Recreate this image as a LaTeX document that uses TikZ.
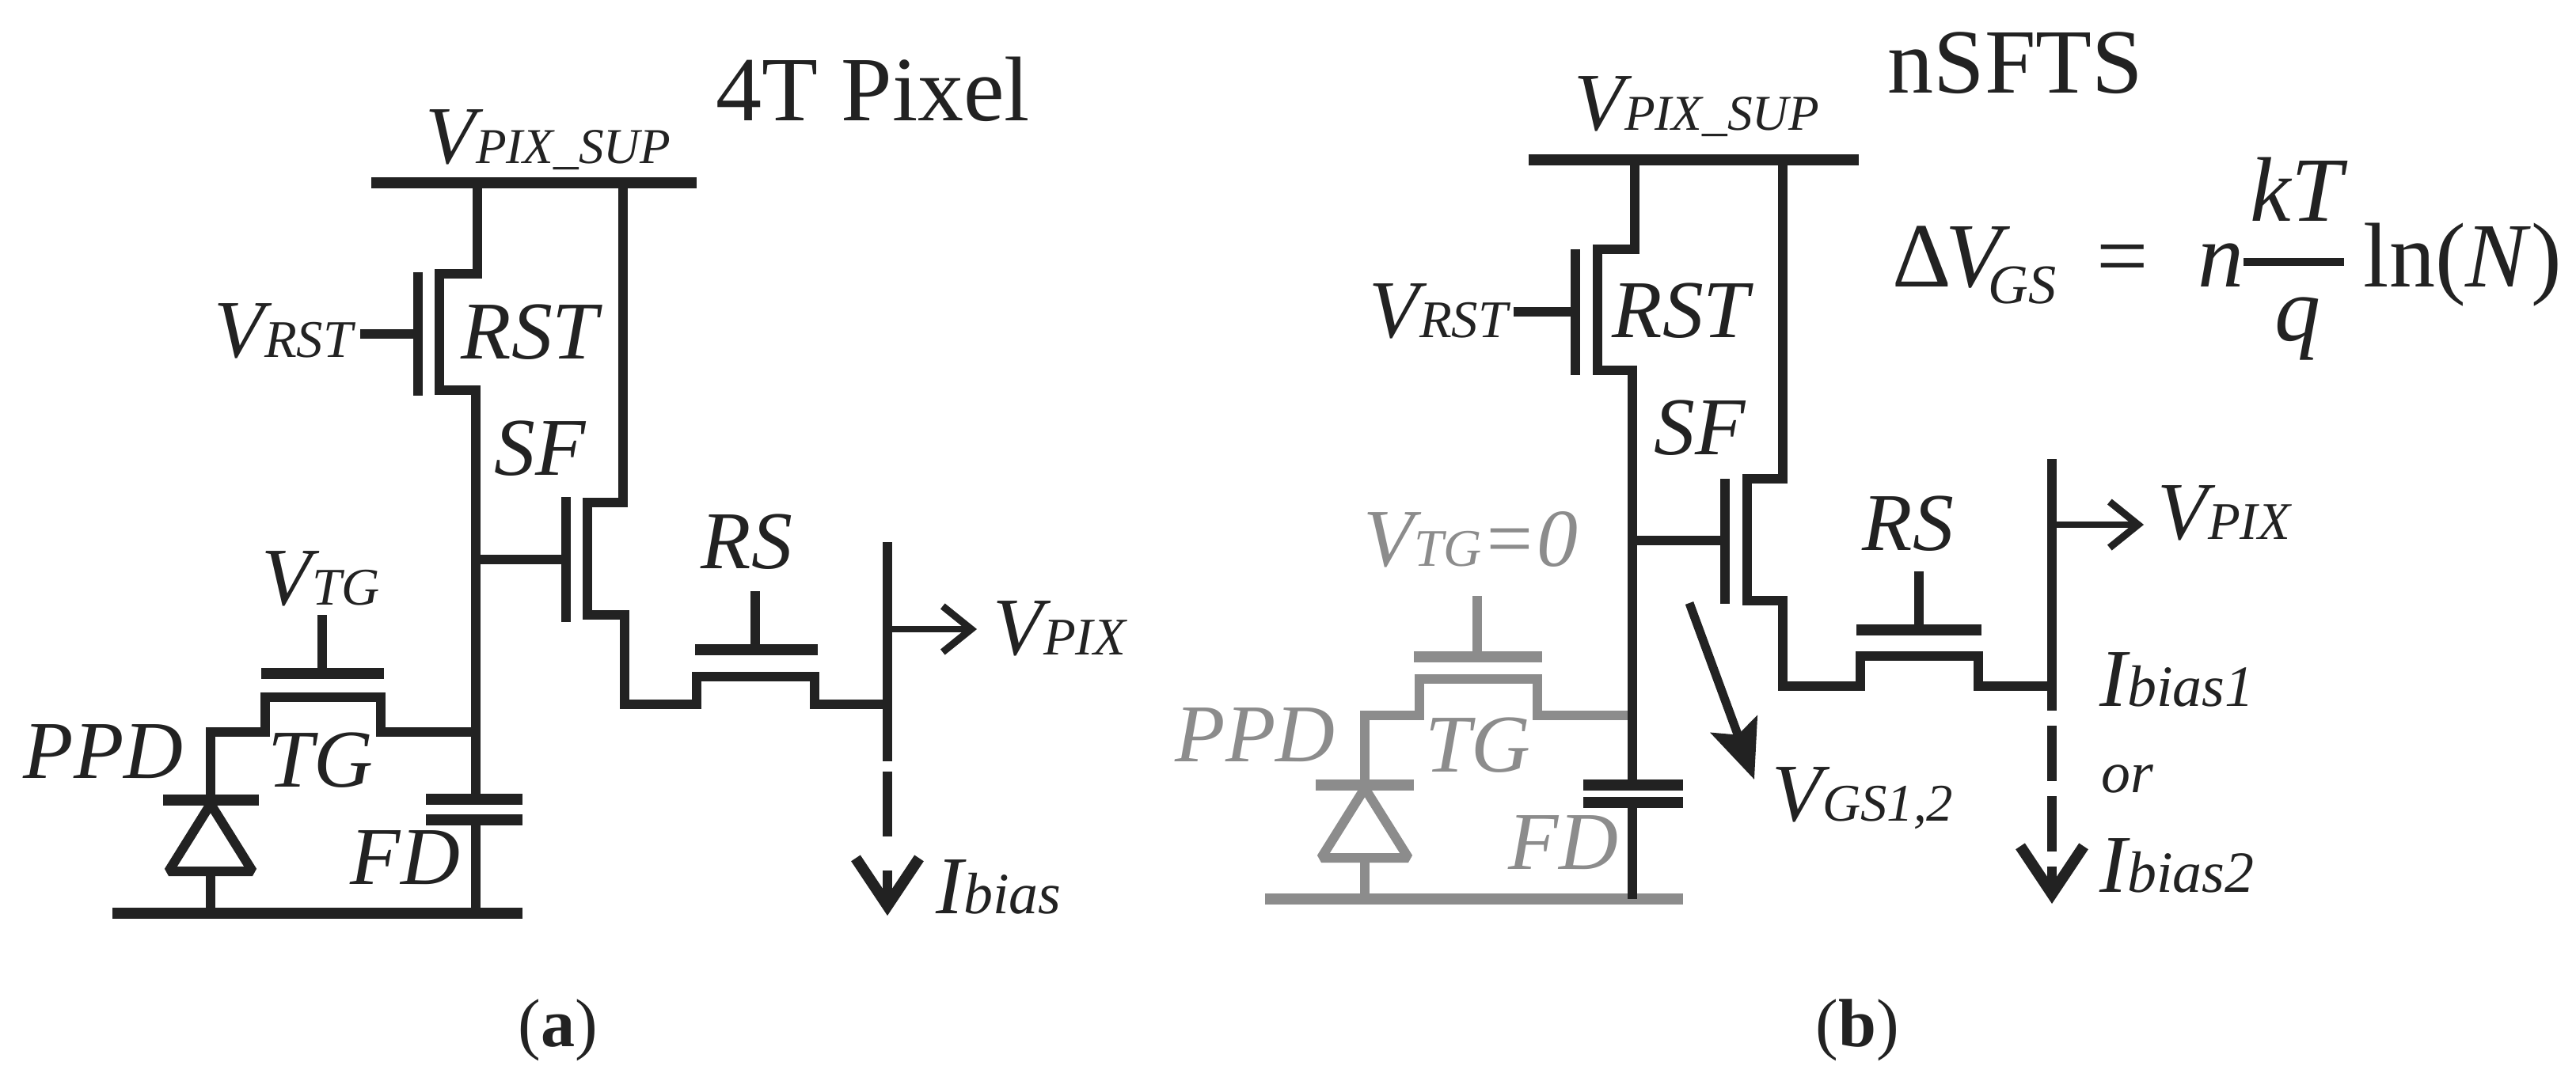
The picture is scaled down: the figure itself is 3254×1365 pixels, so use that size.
\documentclass[tikz,border=0pt]{standalone}
\usepackage{fontspec}
\setmainfont{Liberation Serif}
\usetikzlibrary{arrows.meta, positioning}
\definecolor{ink}{HTML}{222222}
\definecolor{fade}{HTML}{8C8C8C}
\newcommand{\lowsz}{\fontsize{19}{19}\selectfont}
\tikzset{
  wire/.style={draw=ink, line width=.12cm},
  bar/.style={draw=ink, line width=.14cm},
  gwire/.style={draw=fade, line width=.12cm},
  gbar/.style={draw=fade, line width=.14cm},
  lab/.style={anchor=base west, inner sep=0pt, text=ink, font=\fontsize{29.5}{31}\selectfont\itshape},
  glab/.style={lab, text=fade},
  head/.style={anchor=base west, inner sep=0pt, text=ink, font=\fontsize{33}{34}\selectfont},
  eqn/.style={anchor=base west, inner sep=0pt, text=ink, font=\fontsize{33}{34}\selectfont},
  capt/.style={anchor=base west, inner sep=0pt, text=ink, font=\fontsize{24.5}{25}\selectfont},
  bigtip/.style={-{Straight Barb[length=.6cm, width=.8cm, line width=.14cm]}},
  thintip/.style={-{Straight Barb[length=.36cm, width=.58cm, line width=.09cm]}},
  filltip/.style={-{Stealth[length=.74cm, width=.62cm, inset=.14cm]}}
}
\begin{document}
\begin{tikzpicture}[x=.01cm, y=-.01cm]
  \useasboundingbox (0,0) rectangle (3254,1365);

  \coordinate (asupl) at (469,231);
  \coordinate (asupr) at (880,231);
  \coordinate (an1) at (603,231);
  \coordinate (an2) at (603,346);
  \coordinate (an3) at (555,346);
  \coordinate (an4) at (555,493);
  \coordinate (an5) at (601,493);
  \coordinate (afd1) at (601,1010);
  \coordinate (afd2) at (601,1036);
  \coordinate (agnd) at (601,1154);
  \coordinate (argt) at (528,344);
  \coordinate (argb) at (528,500);
  \coordinate (argi) at (528,422);
  \coordinate (arin) at (455,422);
  \coordinate (am1) at (787,231);
  \coordinate (am2) at (787,635);
  \coordinate (am3) at (742,635);
  \coordinate (am4) at (742,777);
  \coordinate (am5) at (789,777);
  \coordinate (am6) at (789,890);
  \coordinate (am7) at (880,890);
  \coordinate (am8) at (880,855);
  \coordinate (am9) at (1029,855);
  \coordinate (am10) at (1029,890);
  \coordinate (aout) at (1121,890);
  \coordinate (asgt) at (715,628);
  \coordinate (asgb) at (715,786);
  \coordinate (asgi) at (715,707);
  \coordinate (asin) at (601,707);
  \coordinate (arsl) at (878,821);
  \coordinate (arsr) at (1033,821);
  \coordinate (arsm) at (954,821);
  \coordinate (arsi) at (954,747);
  \coordinate (atop) at (1121,685);
  \coordinate (aend) at (1121,962);
  \coordinate (ad1) at (1121,975);
  \coordinate (ad2) at (1121,1057);
  \coordinate (ad3) at (1121,1100);
  \coordinate (atip) at (1121,1157);
  \coordinate (apix) at (1121,795);
  \coordinate (apixe) at (1234,795);
  \coordinate (atgl) at (330,851);
  \coordinate (atgr) at (485,851);
  \coordinate (atgm) at (407,851);
  \coordinate (atgi) at (407,777);
  \coordinate (at1) at (601,925);
  \coordinate (at2) at (481,925);
  \coordinate (at3) at (481,881);
  \coordinate (at4) at (335,881);
  \coordinate (at5) at (335,925);
  \coordinate (at6) at (266,925);
  \coordinate (at7) at (266,1011);
  \coordinate (adl) at (206,1011);
  \coordinate (adr) at (327,1011);
  \coordinate (aa1) at (266,1016);
  \coordinate (aa2) at (213,1101);
  \coordinate (aa3) at (319,1101);
  \coordinate (aa4) at (266,1101);
  \coordinate (agd) at (266,1154);
  \coordinate (agl) at (142,1154);
  \coordinate (agr) at (660,1154);
  \coordinate (acl) at (538,1010);
  \coordinate (acr) at (660,1010);
  \coordinate (acl2) at (538,1036);
  \coordinate (acr2) at (660,1036);

  \path[draw, bar] (asupl) -- (asupr) (agl) -- (agr) (adl) -- (adr) (acl) -- (acr) (acl2) -- (acr2);
  \path[draw, bar] (atgl) -- (atgr) (arsl) -- (arsr);
  \path[draw, wire] (an1) -- (an2) -- (an3) -- (an4) -- (an5) -- (afd1) (afd2) -- (agnd);
  \path[draw, wire] (argt) -- (argb) (argi) -- (arin);
  \path[draw, wire] (am1) -- (am2) -- (am3) -- (am4) -- (am5) -- (am6) -- (am7) -- (am8) -- (am9) -- (am10) -- (aout);
  \path[draw, wire] (asgt) -- (asgb) (asgi) -- (asin);
  \path[draw, wire] (arsm) -- (arsi) (atgm) -- (atgi);
  \path[draw, wire] (atop) -- (aend) (ad1) -- (ad2);
  \path[draw, wire] (at1) -- (at2) -- (at3) -- (at4) -- (at5) -- (at6) -- (at7);
  \path[draw, wire, line join=bevel] (aa1) -- (aa2) -- (aa3) -- cycle;
  \path[draw, wire] (aa4) -- (agd);
  \path[draw, wire, bigtip] (ad3) -- (atip);
  \path[draw, ink, line width=.08cm, thintip] (apix) -- (apixe);

  \node (ahead) [head] at (904,152) {4T Pixel};
  \node (asup) [lab] at (537,206) {V{\fontsize{18}{18}\selectfont PIX\_SUP}};
  \node (avrst) [lab] at (270,451) {V{\lowsz RST}};
  \node (arst) [lab] at (582,453) {RST};
  \node (asf) [lab] at (624,600) {SF};
  \node (ars) [lab] at (885,718) {RS};
  \node (avpix) [lab] at (1254,827) {V{\lowsz PIX}};
  \node (avtg) [lab] at (330,764) {V{\lowsz TG}};
  \node (appd) [lab] at (29,983) {PPD};
  \node (atg) [lab] at (338,994) {TG};
  \node (afd) [lab] at (442,1117) {FD};
  \node (aib) [lab] at (1182,1154) {I{\fontsize{21}{21}\selectfont bias}};
  \node (acap) [capt] at (654,1322) {(\textbf{a})};

  \coordinate (bgupl) at (1598,1136);
  \coordinate (bgupr) at (2126,1136);
  \coordinate (bsupl) at (1931,202);
  \coordinate (bsupr) at (2348,202);
  \coordinate (bn1) at (2065,202);
  \coordinate (bn2) at (2065,315);
  \coordinate (bn3) at (2018,315);
  \coordinate (bn4) at (2018,468);
  \coordinate (bn5) at (2062,468);
  \coordinate (bfd1) at (2062,992);
  \coordinate (bfd2) at (2062,1014);
  \coordinate (bgnd) at (2062,1136);
  \coordinate (brgt) at (1990,315);
  \coordinate (brgb) at (1990,474);
  \coordinate (brgi) at (1990,394);
  \coordinate (brin) at (1912,394);
  \coordinate (bm1) at (2252,202);
  \coordinate (bm2) at (2252,605);
  \coordinate (bm3) at (2207,605);
  \coordinate (bm4) at (2207,759);
  \coordinate (bm5) at (2252,759);
  \coordinate (bm6) at (2252,867);
  \coordinate (bm7) at (2350,867);
  \coordinate (bm8) at (2350,829);
  \coordinate (bm9) at (2499,829);
  \coordinate (bm10) at (2499,867);
  \coordinate (bout) at (2592,867);
  \coordinate (bsgt) at (2179,605);
  \coordinate (bsgb) at (2179,763);
  \coordinate (bsgi) at (2179,683);
  \coordinate (bsin) at (2062,683);
  \coordinate (brsl) at (2345,796);
  \coordinate (brsr) at (2503,796);
  \coordinate (brsm) at (2424,796);
  \coordinate (brsi) at (2424,722);
  \coordinate (btop) at (2592,580);
  \coordinate (bend) at (2592,898);
  \coordinate (bd1) at (2592,917);
  \coordinate (bd2) at (2592,987);
  \coordinate (bd3) at (2592,1006);
  \coordinate (bd4) at (2592,1076);
  \coordinate (bd5) at (2592,1095);
  \coordinate (btip) at (2592,1142);
  \coordinate (bpix) at (2592,663);
  \coordinate (bpixe) at (2708,663);
  \coordinate (bgs1) at (2134,762);
  \coordinate (bgs2) at (2216,985);
  \coordinate (btgl) at (1786,830);
  \coordinate (btgr) at (1948,830);
  \coordinate (btgm) at (1866,830);
  \coordinate (btgi) at (1866,753);
  \coordinate (bt1) at (2062,904);
  \coordinate (bt2) at (1942,904);
  \coordinate (bt3) at (1942,858);
  \coordinate (bt4) at (1793,858);
  \coordinate (bt5) at (1793,904);
  \coordinate (bt6) at (1724,904);
  \coordinate (bt7) at (1724,992);
  \coordinate (bdl) at (1662,992);
  \coordinate (bdr) at (1786,992);
  \coordinate (ba1) at (1724,996);
  \coordinate (ba2) at (1669,1084);
  \coordinate (ba3) at (1779,1084);
  \coordinate (ba4) at (1724,1084);
  \coordinate (bgd) at (1724,1136);
  \coordinate (bcl) at (2000,992);
  \coordinate (bcr) at (2126,992);
  \coordinate (bcl2) at (2000,1014);
  \coordinate (bcr2) at (2126,1014);
  \coordinate (bfl) at (2834,331);
  \coordinate (bfr) at (2961,331);

  \path[draw, gbar] (bgupl) -- (bgupr) (bdl) -- (bdr) (btgl) -- (btgr);
  \path[draw, gwire] (btgm) -- (btgi);
  \path[draw, gwire] (bt1) -- (bt2) -- (bt3) -- (bt4) -- (bt5) -- (bt6) -- (bt7);
  \path[draw, gwire, line join=bevel] (ba1) -- (ba2) -- (ba3) -- cycle;
  \path[draw, gwire] (ba4) -- (bgd);
  \path[draw, bar] (bsupl) -- (bsupr) (bcl) -- (bcr) (bcl2) -- (bcr2) (brsl) -- (brsr);
  \path[draw, wire] (bn1) -- (bn2) -- (bn3) -- (bn4) -- (bn5) -- (bfd1) (bfd2) -- (bgnd);
  \path[draw, wire] (brgt) -- (brgb) (brgi) -- (brin);
  \path[draw, wire] (bm1) -- (bm2) -- (bm3) -- (bm4) -- (bm5) -- (bm6) -- (bm7) -- (bm8) -- (bm9) -- (bm10) -- (bout);
  \path[draw, wire] (bsgt) -- (bsgb) (bsgi) -- (bsin);
  \path[draw, wire] (brsm) -- (brsi);
  \path[draw, wire] (btop) -- (bend) (bd1) -- (bd2) (bd3) -- (bd4);
  \path[draw, wire, bigtip] (bd5) -- (btip);
  \path[draw, ink, line width=.08cm, thintip] (bpix) -- (bpixe);
  \path[draw, ink, line width=.11cm, filltip] (bgs1) -- (bgs2);
  \path[draw, ink, line width=.1cm] (bfl) -- (bfr);

  \node (bhead) [head] at (2384,117) {nSFTS};
  \node (bsup) [lab] at (1988,164) {V{\fontsize{18}{18}\selectfont PIX\_SUP}};
  \node (bvrst) [lab] at (1729,426) {V{\lowsz RST}};
  \node (brst) [lab] at (2036,426) {RST};
  \node (bsf) [lab] at (2089,574) {SF};
  \node (brs) [lab] at (2352,695) {RS};
  \node (bvpix) [lab] at (2725,681) {V{\lowsz PIX}};
  \node (bvtg) [glab] at (1722,715) {V{\lowsz TG}=0};
  \node (bppd) [glab] at (1484,962) {PPD};
  \node (btg) [glab] at (1800,975) {TG};
  \node (bfd) [glab] at (1905,1098) {FD};
  \node (bgs) [lab] at (2238,1037) {V{\lowsz GS1,2}};
  \node (bib1) [lab] at (2652,892) {I{\fontsize{21}{21}\selectfont bias1}};
  \node (bor) [lab, font=\fontsize{21}{21}\selectfont\itshape] at (2654,1001) {or};
  \node (bib2) [lab] at (2652,1127) {I{\fontsize{21}{21}\selectfont bias2}};
  \node (beq) [eqn] at (2390,362) {Δ\hspace{-.08cm}\textit{V}\hspace{-.28cm}\raisebox{-.21cm}{\fontsize{20}{20}\selectfont\textit{GS}}};
  \node (beqs) [eqn] at (2648,362) {=};
  \node (bnn) [eqn, font=\fontsize{33}{34}\selectfont\itshape] at (2776,362) {n};
  \node (bkt) [eqn, font=\fontsize{33}{34}\selectfont\itshape] at (2842,279) {kT};
  \node (bqq) [eqn, font=\fontsize{33}{34}\selectfont\itshape] at (2873,430) {q};
  \node (bln) [eqn] at (2985,362) {ln(\textit{N})};
  \node (bcap) [capt] at (2293,1322) {(\textbf{b})};
\end{tikzpicture}
\end{document}
